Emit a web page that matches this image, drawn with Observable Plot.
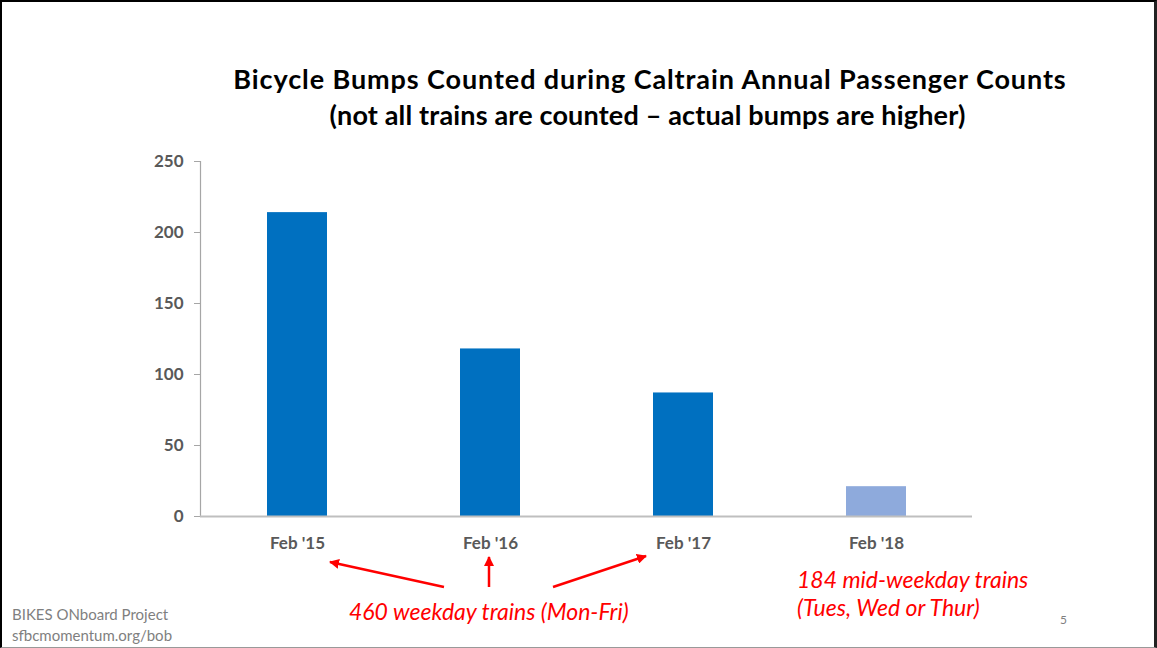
<!DOCTYPE html>
<html>
<head>
<meta charset="utf-8">
<script src="https://cdn.jsdelivr.net/npm/d3@7"></script>
<script src="https://cdn.jsdelivr.net/npm/@observablehq/plot@0.6"></script>
<style>
  html, body { margin: 0; padding: 0; background: #fff; }
  #wrap { position: relative; width: 1157px; height: 648px; overflow: hidden; font-family: Lato, "Open Sans", sans-serif; }
  #frame { position: absolute; left: 0; top: 0; width: 1157px; height: 648px; box-sizing: border-box;
           border-left: 2px solid #000; border-top: 2px solid #000; border-right: 3px solid #222; border-bottom: 1px solid #999; pointer-events: none; }
  .t { position: absolute; white-space: nowrap; }
  #title { left: 0; width: 1300px; text-align: center; top: 62px; font-weight: 700; font-size: 27px; letter-spacing: 0.9px; color: #000; }
  #subtitle { left: 0; width: 1295px; text-align: center; top: 98px; font-weight: 700; font-size: 27px; letter-spacing: 0.17px; color: #000; }
  .red { color: #ff0000; font-style: italic; font-size: 23px; }
  .foot { color: #7f7f7f; font-size: 15px; }
  #chart svg { position: absolute; left: 0; top: 0; }
  #arrows { position: absolute; left: 0; top: 0; }
</style>
</head>
<body>
<div id="wrap">
  <div id="chart"></div>
  <svg id="arrows" width="1157" height="648"></svg>
  <div class="t" id="title"></div>
  <div class="t" id="subtitle"></div>
  <div class="t red" id="ann1"></div>
  <div class="t red" id="ann2"></div>
  <div class="t red" id="ann3"></div>
  <div class="t foot" id="foot1"></div>
  <div class="t foot" id="foot2"></div>
  <div class="t foot" id="pagenum"></div>
  <div id="frame"></div>
</div>
<script>
// ---- data ----
const categories = ["Feb '15", "Feb '16", "Feb '17", "Feb '18"];
const bumps = [214, 118, 87, 21];
const barColors = ["#0070c0", "#0070c0", "#0070c0", "#8eaadc"];
const yTicks = [0, 50, 100, 150, 200, 250];

const titleText = "Bicycle Bumps Counted during Caltrain Annual Passenger Counts";
const subtitleText = "(not all trains are counted \u2013 actual bumps are higher)";
const annWeekday = "460 weekday trains (Mon-Fri)";
const annMidweek = ["184 mid-weekday trains", "(Tues, Wed or Thur)"];
const footer = ["BIKES ONboard Project", "sfbcmomentum.org/bob"];
const pageNumber = "5";

const rows = categories.map((c, i) => ({ cat: c, value: bumps[i], color: barColors[i] }));

const plot = Plot.plot({
  width: 1157,
  height: 648,
  marginLeft: 200,
  marginRight: 185,
  marginTop: 161,
  marginBottom: 132,
  style: { fontFamily: "Lato, 'Open Sans', sans-serif", background: "transparent" },
  x: { domain: categories, paddingInner: 0.69, paddingOuter: 0.345, label: null },
  y: { domain: [0, 250], label: null },
  marks: [
    Plot.barY(rows, { x: "cat", y: "value", fill: "color" }),
    Plot.frame({ anchor: "left", stroke: "#a6a6a6", strokeWidth: 1.2 }),
    Plot.ruleY([0], { stroke: "#bfbfbf", strokeWidth: 2 }),
    Plot.axisY({ ticks: yTicks, tickSize: 6, tickPadding: 11, stroke: "#a6a6a6", fill: "#595959",
                 fontSize: 17, fontWeight: "bold", label: null }),
    Plot.axisX({ tickSize: 0, tickPadding: 20, fill: "#595959", fontSize: 17, fontWeight: "bold", label: null })
  ]
});
document.getElementById("chart").appendChild(plot);

// texts
document.getElementById("title").textContent = titleText;
document.getElementById("subtitle").textContent = subtitleText;
const a1 = document.getElementById("ann1");
a1.textContent = annWeekday;
a1.style.left = "349px"; a1.style.top = "597px";
const a2 = document.getElementById("ann2");
a2.textContent = annMidweek[0];
a2.style.left = "797px"; a2.style.top = "565px";
const a3 = document.getElementById("ann3");
a3.textContent = annMidweek[1];
a3.style.left = "797px"; a3.style.top = "593px";
const f1 = document.getElementById("foot1");
f1.textContent = footer[0]; f1.style.left = "12px"; f1.style.top = "605px";
const f2 = document.getElementById("foot2");
f2.textContent = footer[1]; f2.style.left = "12px"; f2.style.top = "626px";
const pn = document.getElementById("pagenum");
pn.textContent = pageNumber; pn.style.left = "1060px"; pn.style.top = "612px"; pn.style.fontSize = "12px";

// annotation arrows (decorative)
const arrowSpecs = [
  { x1: 444, y1: 587, x2: 330, y2: 562 },
  { x1: 489, y1: 587, x2: 489, y2: 557 },
  { x1: 553, y1: 587, x2: 646, y2: 556 }
];
const svg = d3.select("#arrows");
svg.append("defs").append("marker")
  .attr("id", "ah").attr("viewBox", "0 0 10 10").attr("refX", 9).attr("refY", 5)
  .attr("markerWidth", 4).attr("markerHeight", 4).attr("orient", "auto")
  .append("path").attr("d", "M0,0 L10,5 L0,10 z").attr("fill", "#ff0000");
svg.selectAll("line").data(arrowSpecs).join("line")
  .attr("x1", d => d.x1).attr("y1", d => d.y1).attr("x2", d => d.x2).attr("y2", d => d.y2)
  .attr("stroke", "#ff0000").attr("stroke-width", 2.5).attr("marker-end", "url(#ah)");
</script>
</body>
</html>
